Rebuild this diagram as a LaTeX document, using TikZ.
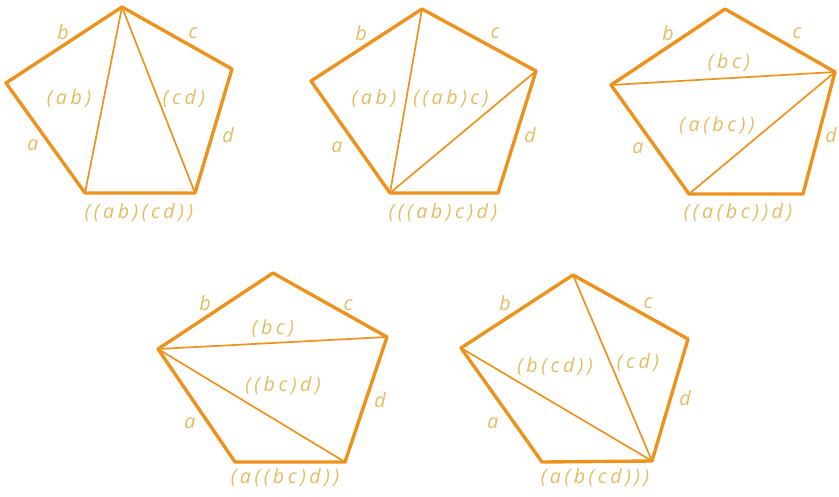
\documentclass[tikz,border=0pt]{standalone}
\usepackage{fontspec}
\usepackage{tikz}
\usetikzlibrary{positioning, calc}
\usepackage{xcolor}
\definecolor{edgeorange}{RGB}{238,146,30}
\definecolor{labelgold}{RGB}{228,188,96}
\newfontfamily\lblfont[LetterSpace=18]{Open Sans}

\tikzset{
  side/.style={draw=edgeorange, line width=2.4pt, line join=round},
  chord/.style={draw=edgeorange, line width=1.2pt},
  lbl/.style={text=labelgold, font=\lblfont\itshape\fontsize{14}{16}\selectfont, inner sep=0pt}
}

\begin{document}
\begin{tikzpicture}[x=0.025cm, y=-0.025cm]
    \useasboundingbox (0,0) rectangle (839,497);

    % first pentagon
    \coordinate (p1l) at (6,83);
    \coordinate (p1t) at (122,7);
    \coordinate (p1r) at (232,69);
    \coordinate (p1br) at (195,193);
    \coordinate (p1bl) at (85,193);
    \draw[side] (p1l) -- (p1t) -- (p1r) -- (p1br) -- (p1bl) -- cycle;
    \draw[chord] (p1t) -- (p1bl);
    \draw[chord] (p1t) -- (p1br);
    \node[lbl] (p1a) at (33,145) {a};
    \node[lbl] (p1b) at (63,32) {b};
    \node[lbl] (p1c) at (193,33) {c};
    \node[lbl] (p1d) at (228,135) {d};
    \node[lbl] (p1ab) at (69,99) {(ab)};
    \node[lbl] (p1cd) at (184,99) {(cd)};
    \node[lbl] (p1all) at (139,213) {((ab)(cd))};

    % second pentagon
    \coordinate (p2l) at (311,81);
    \coordinate (p2t) at (422,9);
    \coordinate (p2r) at (536,71);
    \coordinate (p2br) at (498,193);
    \coordinate (p2bl) at (390,193);
    \draw[side] (p2l) -- (p2t) -- (p2r) -- (p2br) -- (p2bl) -- cycle;
    \draw[chord] (p2t) -- (p2bl);
    \draw[chord] (p2r) -- (p2bl);
    \node[lbl] (p2a) at (337,147) {a};
    \node[lbl] (p2b) at (361,33) {b};
    \node[lbl] (p2c) at (495,33) {c};
    \node[lbl] (p2d) at (530,135) {d};
    \node[lbl] (p2ab) at (374,99) {(ab)};
    \node[lbl] (p2abc) at (451,99) {((ab)c)};
    \node[lbl] (p2all) at (443,213) {(((ab)c)d)};

    % third pentagon
    \coordinate (p3l) at (611,85);
    \coordinate (p3t) at (725,9);
    \coordinate (p3r) at (835,72);
    \coordinate (p3br) at (803,194);
    \coordinate (p3bl) at (689,194);
    \draw[side] (p3l) -- (p3t) -- (p3r) -- (p3br) -- (p3bl) -- cycle;
    \draw[chord] (p3l) -- (p3r);
    \draw[chord] (p3r) -- (p3bl);
    \node[lbl] (p3a) at (638,148) {a};
    \node[lbl] (p3b) at (668,33) {b};
    \node[lbl] (p3c) at (797,33) {c};
    \node[lbl] (p3d) at (831,135) {d};
    \node[lbl] (p3bc) at (729,63) {(bc)};
    \node[lbl] (p3abc) at (717,126) {(a(bc))};
    \node[lbl] (p3all) at (738,213) {((a(bc))d)};

    % fourth pentagon
    \coordinate (p4l) at (158,349);
    \coordinate (p4t) at (273,273);
    \coordinate (p4r) at (387,337);
    \coordinate (p4br) at (345,462);
    \coordinate (p4bl) at (235,462);
    \draw[side] (p4l) -- (p4t) -- (p4r) -- (p4br) -- (p4bl) -- cycle;
    \draw[chord] (p4l) -- (p4r);
    \draw[chord] (p4l) -- (p4br);
    \node[lbl] (p4a) at (190,423) {a};
    \node[lbl] (p4b) at (205,303) {b};
    \node[lbl] (p4c) at (348,305) {c};
    \node[lbl] (p4d) at (380,400) {d};
    \node[lbl] (p4bc) at (273,329) {(bc)};
    \node[lbl] (p4bcd) at (283,386) {((bc)d)};
    \node[lbl] (p4all) at (285,478) {(a((bc)d))};

    % fifth pentagon
    \coordinate (p5l) at (461,348);
    \coordinate (p5t) at (573,275);
    \coordinate (p5r) at (688,339);
    \coordinate (p5br) at (652,461);
    \coordinate (p5bl) at (542,462);
    \draw[side] (p5l) -- (p5t) -- (p5r) -- (p5br) -- (p5bl) -- cycle;
    \draw[chord] (p5l) -- (p5br);
    \draw[chord] (p5t) -- (p5br);
    \node[lbl] (p5a) at (493,423) {a};
    \node[lbl] (p5b) at (505,303) {b};
    \node[lbl] (p5c) at (648,303) {c};
    \node[lbl] (p5d) at (685,398) {d};
    \node[lbl] (p5bcd) at (555,367) {(b(cd))};
    \node[lbl] (p5cd) at (638,363) {(cd)};
    \node[lbl] (p5all) at (595,478) {(a(b(cd)))};
\end{tikzpicture}
\end{document}
